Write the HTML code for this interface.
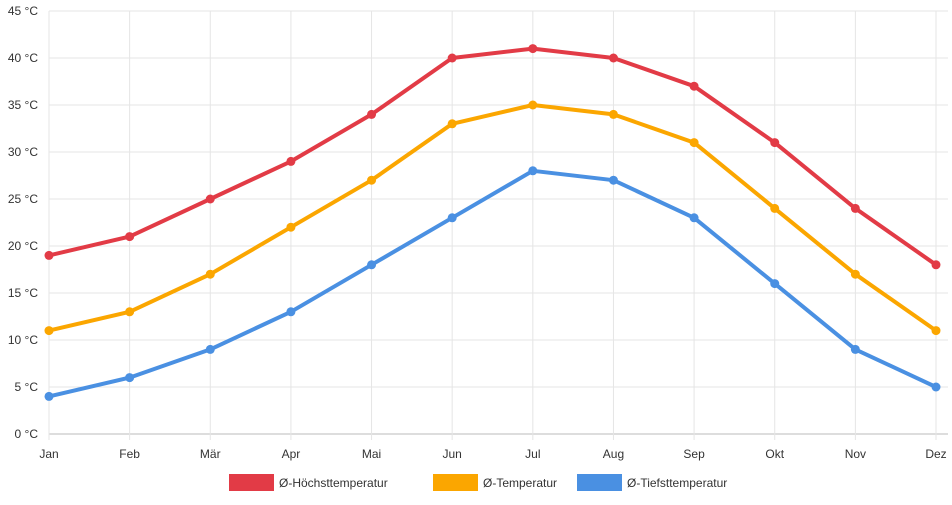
<!DOCTYPE html>
<html><head><meta charset="utf-8"><style>
body{margin:0;background:#fff;font-family:"Liberation Sans",sans-serif;}
svg text{font-family:"Liberation Sans",sans-serif;font-size:12px;fill:#333;}
</style></head><body>
<svg id="chart" width="952" height="500"></svg>
<script>
const months=["Jan","Feb","Mär","Apr","Mai","Jun","Jul","Aug","Sep","Okt","Nov","Dez"];
const highTemps=[19,21,25,29,34,40,41,40,37,31,24,18];
const meanTemps=[11,13,17,22,27,33,35,34,31,24,17,11];
const lowTemps=[4,6,9,13,18,23,28,27,23,16,9,5];
const yTicks=[0,5,10,15,20,25,30,35,40,45];
const seriesNames=["Ø-Höchsttemperatur","Ø-Temperatur","Ø-Tiefsttemperatur"];
const NS="http://www.w3.org/2000/svg";
const svg=document.getElementById('chart');
const x0=49,x1=936,yTop=11,yBot=434,yMax=45;
const xs=i=>x0+i*(x1-x0)/(months.length-1);
const ys=v=>yBot-v/yMax*(yBot-yTop);
function mk(tag,attrs,parent){const e=document.createElementNS(NS,tag);for(const k in attrs)e.setAttribute(k,attrs[k]);(parent||svg).appendChild(e);return e;}
const grid=mk('g',{});


yTicks.forEach(t=>{
  mk('line',{x1:x0,x2:x1+12,y1:ys(t),y2:ys(t),stroke:t===0?'#bbb':'#e5e5e5','stroke-width':1},grid);
  const tx=mk('text',{x:38,y:ys(t)+4,'text-anchor':'end'});
  tx.textContent=t+' °C';
  
  
});
months.forEach((m,i)=>{
  mk('line',{x1:xs(i),x2:xs(i),y1:yTop,y2:yBot+6,stroke:'#e5e5e5','stroke-width':1},grid);
  const tx=mk('text',{x:xs(i),y:458,'text-anchor':'middle'});
  tx.textContent=m;
  
  
});
const colors=['#e23b46','#fba600','#4a90e2'];
[highTemps,meanTemps,lowTemps].forEach((arr,s)=>{
  const g=mk('g',{});
  
  
  mk('polyline',{points:arr.map((v,i)=>xs(i)+','+ys(v)).join(' '),fill:'none',stroke:colors[s],'stroke-width':4,'stroke-linejoin':'round'},g);
  arr.forEach((v,i)=>{
    const c=mk('circle',{cx:xs(i),cy:ys(v),r:4.5,fill:colors[s]},g);
    
    
  });
});
const legX=[229,433,577];
seriesNames.forEach((n,s)=>{
  const g=mk('g',{});
  
  
  mk('rect',{x:legX[s],y:474,width:45,height:17,fill:colors[s]},g);
  const t=mk('text',{x:legX[s]+50,y:487});
  t.textContent=n;
});
</script>
</body></html>
